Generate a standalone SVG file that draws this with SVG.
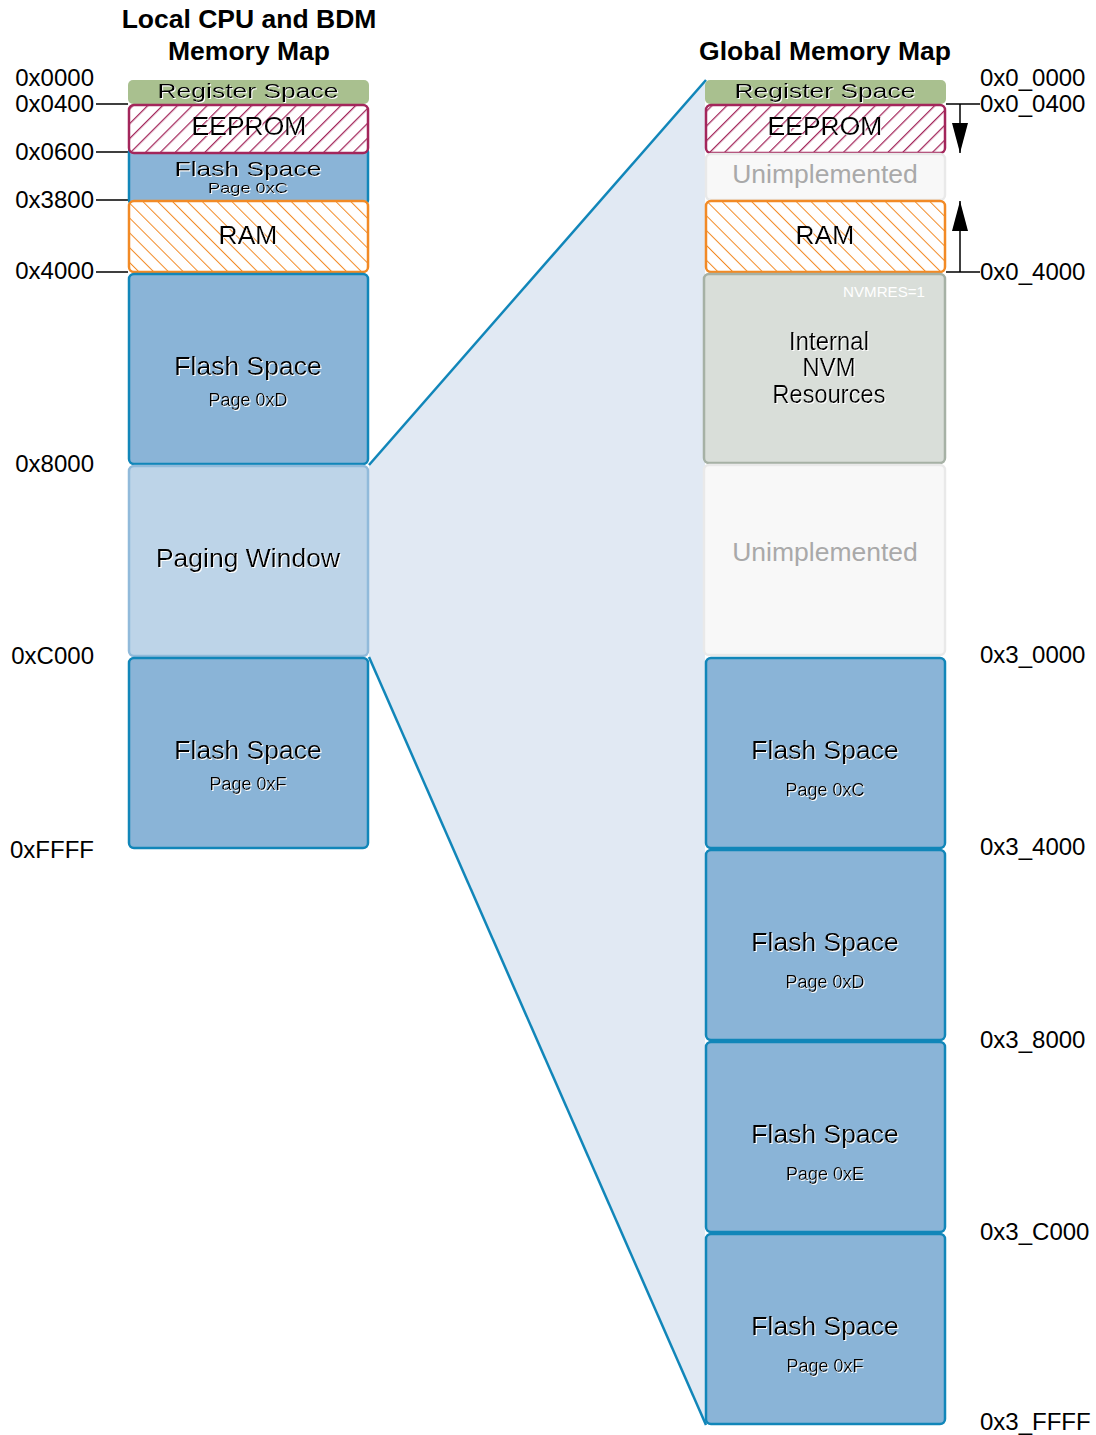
<svg xmlns="http://www.w3.org/2000/svg" width="1096" height="1435" viewBox="0 0 1096 1435">
<style>
text{font-family:"Liberation Sans",Arial,sans-serif;fill:#000}
.t{font-weight:bold;font-size:26.5px;text-anchor:middle}
.lab{font-size:24px}
.labr{font-size:24px;text-anchor:end}
.c{text-anchor:middle}
.big{font-size:26.5px;text-anchor:middle;filter:url(#sh)}
.pg{font-size:18px;text-anchor:middle;filter:url(#sh)}
.flash{fill:#8ab4d7;stroke:#1186b9;stroke-width:2.5}
.page{fill:#bdd4e8;stroke:#91bada;stroke-width:2.5}
.reg{fill:#a9c08f}
.ee{fill:url(#hee);stroke:#a3265b;stroke-width:2.5}
.ram{fill:url(#hram);stroke:#f28a25;stroke-width:2.5}
.un{fill:#f8f8f8;stroke:#e9e9e9;stroke-width:2.5}
.nvm{fill:#d9ded9;stroke:#a6b1a5;stroke-width:2.5}
.un-t{font-size:26.5px;text-anchor:middle;fill:#a9a9a9}
.tick{stroke:#000;stroke-width:1.5;fill:none}
</style>
<defs>
<filter id="sh" x="-10%" y="-30%" width="120%" height="160%">
<feDropShadow dx="1" dy="1" stdDeviation="0" flood-color="#fff" flood-opacity="1"/>
</filter>
<pattern id="hee" patternUnits="userSpaceOnUse" width="10.5" height="10.5" patternTransform="rotate(45)">
<rect width="10.5" height="10.5" fill="#fff"/>
<line x1="0" y1="0" x2="0" y2="10.5" stroke="#a3265b" stroke-width="2.5"/>
</pattern>
<pattern id="hram" patternUnits="userSpaceOnUse" width="10.5" height="10.5" patternTransform="rotate(-45)">
<rect width="10.5" height="10.5" fill="#fff"/>
<line x1="0" y1="0" x2="0" y2="10.5" stroke="#f28a25" stroke-width="2"/>
</pattern>
<marker id="ah" viewBox="0 0 30 16" refX="30" refY="8" markerWidth="30" markerHeight="16" markerUnits="userSpaceOnUse" orient="auto">
<path d="M0,0 L30,8 L0,16 z" fill="#000"/>
</marker>
</defs>

<text class="t" x="249" y="28">Local CPU and BDM</text>
<text class="t" x="249" y="60">Memory Map</text>
<text class="t" x="825" y="60">Global Memory Map</text>

<g id="connectors">
<polygon points="369,465 705,80 705,1425 369,657" fill="#e1e9f3"/>
<line x1="369" y1="465" x2="706" y2="80" stroke="#1186b9" stroke-width="2.5"/>
<line x1="369" y1="657" x2="706" y2="1425" stroke="#1186b9" stroke-width="2.5"/>
<path class="tick" d="M96,104 H128 M96,152 H128 M96,200 H128 M96,272 H128"/>
<path class="tick" d="M946,104 H980 M946,272 H980"/>
<line x1="960" y1="104" x2="960" y2="153" stroke="#000" stroke-width="1.5" marker-end="url(#ah)"/>
<line x1="960" y1="272" x2="960" y2="201" stroke="#000" stroke-width="1.5" marker-end="url(#ah)"/>
</g>

<g id="left-labels">
<text class="labr" x="94" y="86">0x0000</text>
<text class="labr" x="94" y="112">0x0400</text>
<text class="labr" x="94" y="160">0x0600</text>
<text class="labr" x="94" y="208">0x3800</text>
<text class="labr" x="94" y="279">0x4000</text>
<text class="labr" x="94" y="472">0x8000</text>
<text class="labr" x="94" y="664">0xC000</text>
<text class="labr" x="94" y="858">0xFFFF</text>
</g>
<g id="right-labels">
<text class="lab" x="980" y="86">0x0_0000</text>
<text class="lab" x="980" y="112">0x0_0400</text>
<text class="lab" x="980" y="280">0x0_4000</text>
<text class="lab" x="980" y="663">0x3_0000</text>
<text class="lab" x="980" y="855">0x3_4000</text>
<text class="lab" x="980" y="1048">0x3_8000</text>
<text class="lab" x="980" y="1240">0x3_C000</text>
<text class="lab" x="980" y="1430">0x3_FFFF</text>
</g>

<g id="l-reg">
<rect class="reg" x="128" y="80" width="241" height="24" rx="5"/>
<text x="248" y="98" font-size="20" class="c" textLength="181" lengthAdjust="spacingAndGlyphs" filter="url(#sh)">Register Space</text>
</g>
<g id="l-flashc">
<rect class="flash" x="129" y="148" width="239" height="56" rx="4"/>
<text x="248" y="176" font-size="21" class="c" textLength="147" lengthAdjust="spacingAndGlyphs" filter="url(#sh)">Flash Space</text>
<text x="248" y="193" font-size="15" class="c" textLength="80" lengthAdjust="spacingAndGlyphs" filter="url(#sh)">Page 0xC</text>
</g>
<g id="l-eeprom">
<rect class="ee" x="129" y="105" width="239" height="48" rx="5"/>
<text class="big" x="249" y="135">EEPROM</text>
</g>
<g id="l-ram">
<rect class="ram" x="129" y="201" width="239" height="71" rx="5"/>
<text class="big" x="248" y="244">RAM</text>
</g>
<g id="l-flashd">
<rect class="flash" x="129" y="274" width="239" height="190" rx="5"/>
<text class="big" x="248" y="375">Flash Space</text>
<text class="pg" x="248" y="406">Page 0xD</text>
</g>
<g id="l-paging">
<rect class="page" x="129" y="466" width="239" height="190" rx="5"/>
<text class="big" x="248" y="567">Paging Window</text>
</g>
<g id="l-flashf">
<rect class="flash" x="129" y="658" width="239" height="190" rx="5"/>
<text class="big" x="248" y="759">Flash Space</text>
<text class="pg" x="248" y="790">Page 0xF</text>
</g>

<g id="r-reg">
<rect class="reg" x="705" y="80" width="241" height="24" rx="5"/>
<text x="825" y="98" font-size="20" class="c" textLength="181" lengthAdjust="spacingAndGlyphs" filter="url(#sh)">Register Space</text>
</g>
<g id="r-eeprom">
<rect class="ee" x="706" y="105" width="239" height="48" rx="5"/>
<text class="big" x="825" y="135">EEPROM</text>
</g>
<g id="r-unimp1">
<rect class="un" x="706" y="154" width="239" height="46" rx="5"/>
<text class="un-t" x="825" y="183">Unimplemented</text>
</g>
<g id="r-ram">
<rect class="ram" x="706" y="201" width="239" height="71" rx="5"/>
<text class="big" x="825" y="244">RAM</text>
</g>
<g id="r-nvm">
<rect class="nvm" x="704" y="274" width="241" height="189" rx="5"/>
<text x="925" y="297" font-size="15" style="fill:#fff" text-anchor="end" textLength="82" lengthAdjust="spacingAndGlyphs">NVMRES=1</text>
<text x="829" y="350" font-size="25" class="c" textLength="80" lengthAdjust="spacingAndGlyphs" filter="url(#sh)">Internal</text>
<text x="829" y="376" font-size="25" class="c" textLength="53" lengthAdjust="spacingAndGlyphs" filter="url(#sh)">NVM</text>
<text x="829" y="403" font-size="25" class="c" textLength="113" lengthAdjust="spacingAndGlyphs" filter="url(#sh)">Resources</text>
</g>
<g id="r-unimp2">
<rect class="un" x="704" y="465" width="241" height="190" rx="5"/>
<text class="un-t" x="825" y="561">Unimplemented</text>
</g>
<g id="r-flashc">
<rect class="flash" x="706" y="658" width="239" height="190" rx="5"/>
<text class="big" x="825" y="759">Flash Space</text>
<text class="pg" x="825" y="796">Page 0xC</text>
</g>
<g id="r-flashd">
<rect class="flash" x="706" y="850" width="239" height="190" rx="5"/>
<text class="big" x="825" y="951">Flash Space</text>
<text class="pg" x="825" y="988">Page 0xD</text>
</g>
<g id="r-flashe">
<rect class="flash" x="706" y="1042" width="239" height="190" rx="5"/>
<text class="big" x="825" y="1143">Flash Space</text>
<text class="pg" x="825" y="1180">Page 0xE</text>
</g>
<g id="r-flashf">
<rect class="flash" x="706" y="1234" width="239" height="190" rx="5"/>
<text class="big" x="825" y="1335">Flash Space</text>
<text class="pg" x="825" y="1372">Page 0xF</text>
</g>
</svg>
